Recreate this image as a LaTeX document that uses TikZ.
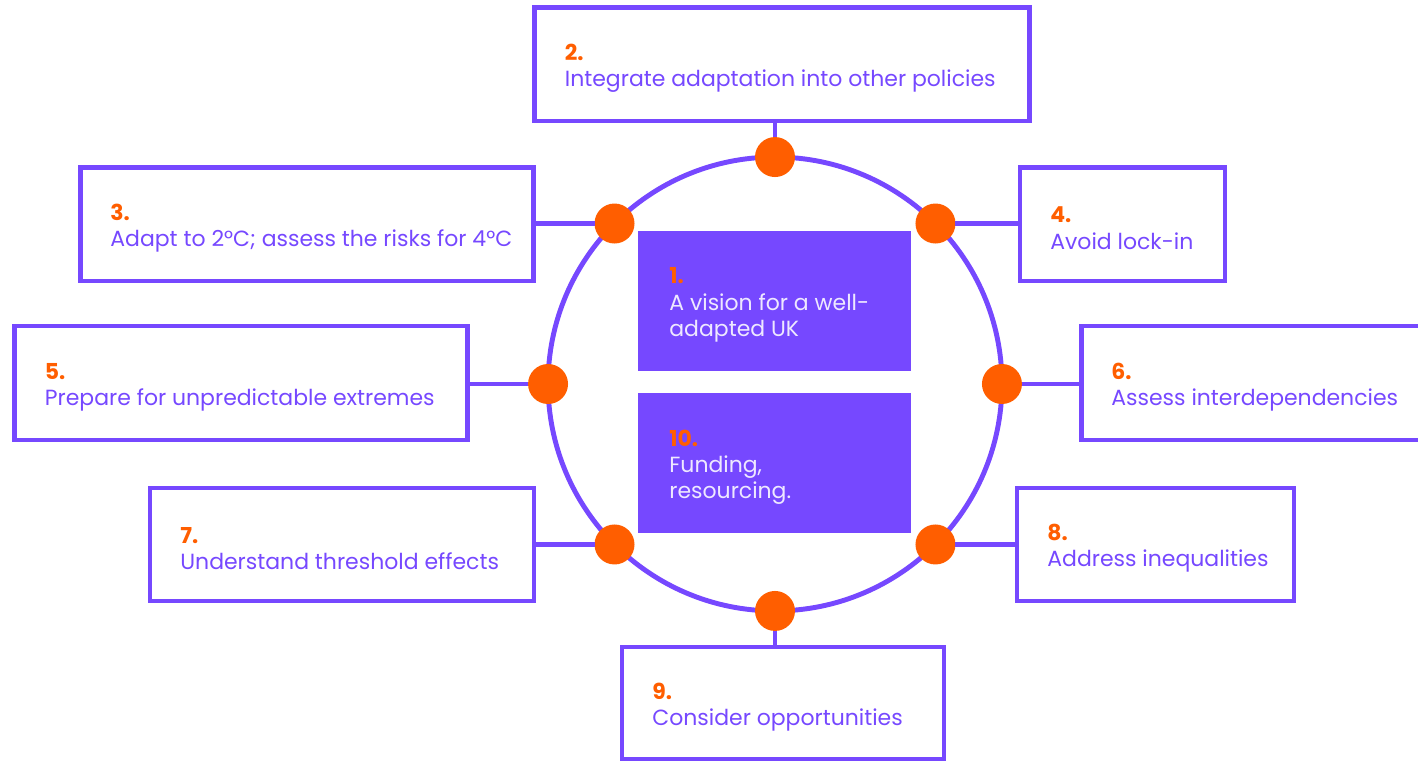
\documentclass[tikz,border=0pt]{standalone}
\usepackage{fontspec}
\setmainfont{Poppins}
\usetikzlibrary{positioning}

\definecolor{vio}{HTML}{7648FF}
\definecolor{tang}{HTML}{FF5E00}
\definecolor{lilac}{HTML}{EEE8FF}

\tikzset{
  box/.style={draw=vio, line width=2.8pt, rectangle, inner sep=0pt, outer sep=0pt},
  core/.style={fill=vio, rectangle, inner sep=0pt, outer sep=0pt, minimum width=5.46cm, minimum height=2.8cm},
  boxtext/.style={anchor=west, align=left, inner sep=0pt, yshift=-0.08cm, text=vio, font=\fontsize{12.5}{14.9}\selectfont},
  ringdot/.style={circle, fill=tang, minimum size=0.8cm, inner sep=0pt, outer sep=0pt},
  link/.style={draw=vio, line width=2.8pt}
}
\newcommand{\num}[1]{{\color{tang}\bfseries #1}}

\begin{document}
\begin{tikzpicture}[x=0.02cm, y=-0.02cm]
  \useasboundingbox (0,0) rectangle (1418,763);

  %%%%% RING %%%%%
  \node[draw=vio, line width=2.8pt, circle, minimum size=9.08cm, inner sep=0pt, outer sep=0pt] (ring) at (775,384) {};

  %%%%% CENTRE %%%%%
  \node[core] (b1) at (774.5,301) {};
  \node[boxtext, text=lilac] (t1) at ([xshift=0.62cm]b1.west) {\num{1.}\\A vision for a well-\\adapted UK};
  \node[core] (b10) at (774.5,463) {};
  \node[boxtext, text=lilac] (t10) at ([xshift=0.62cm]b10.west) {\num{10.}\\Funding,\\resourcing.};

  %%%%% BOXES %%%%%
  \node[box, minimum width=9.9cm, minimum height=2.27cm] (b2) at (782,64.25) {};
  \node[boxtext] (t2) at ([xshift=0.6cm]b2.west) {\num{2.}\\Integrate adaptation into other policies};

  \node[box, minimum width=9.08cm, minimum height=2.27cm] (b3) at (307,224.25) {};
  \node[boxtext] (t3) at ([xshift=0.6cm]b3.west) {\num{3.}\\Adapt to 2°C; assess the risks for 4°C};

  \node[box, minimum width=4.1cm, minimum height=2.27cm] (b4) at (1122.5,224.25) {};
  \node[boxtext] (t4) at ([xshift=0.6cm]b4.west) {\num{4.}\\Avoid lock-in};

  \node[box, minimum width=9.07cm, minimum height=2.28cm] (b5) at (241.25,383) {};
  \node[boxtext] (t5) at ([xshift=0.6cm]b5.west) {\num{5.}\\Prepare for unpredictable extremes};

  \node[box, minimum width=7.58cm, minimum height=2.28cm] (b6) at (1270.5,383) {};
  \node[boxtext] (t6) at ([xshift=0.6cm]b6.west) {\num{6.}\\Assess interdependencies};

  \node[box, minimum width=7.68cm, minimum height=2.26cm] (b7) at (342,544.5) {};
  \node[boxtext] (t7) at ([xshift=0.6cm]b7.west) {\num{7.}\\Understand threshold effects};

  \node[box, minimum width=5.54cm, minimum height=2.26cm] (b8) at (1155.5,544.5) {};
  \node[boxtext] (t8) at ([xshift=0.6cm]b8.west) {\num{8.}\\Address inequalities};

  \node[box, minimum width=6.44cm, minimum height=2.24cm] (b9) at (783,703) {};
  \node[boxtext] (t9) at ([xshift=0.6cm]b9.west) {\num{9.}\\Consider opportunities};

  %%%%% DOTS %%%%%
  \node[ringdot] (d2) at (ring.90) {};
  \node[ringdot] (d3) at (ring.135) {};
  \node[ringdot] (d4) at (ring.45) {};
  \node[ringdot] (d5) at (ring.180) {};
  \node[ringdot] (d6) at (ring.0) {};
  \node[ringdot] (d7) at (ring.225) {};
  \node[ringdot] (d8) at (ring.315) {};
  \node[ringdot] (d9) at (ring.270) {};

  %%%%% LINKS %%%%%
  \draw[link] (d2) -- (d2 |- b2.south);
  \draw[link] (b3.east |- d3) -- (d3);
  \draw[link] (d4) -- (d4 -| b4.west);
  \draw[link] (b5.east |- d5) -- (d5);
  \draw[link] (d6) -- (d6 -| b6.west);
  \draw[link] (b7.east |- d7) -- (d7);
  \draw[link] (d8) -- (d8 -| b8.west);
  \draw[link] (d9) -- (d9 |- b9.north);
\end{tikzpicture}
\end{document}
